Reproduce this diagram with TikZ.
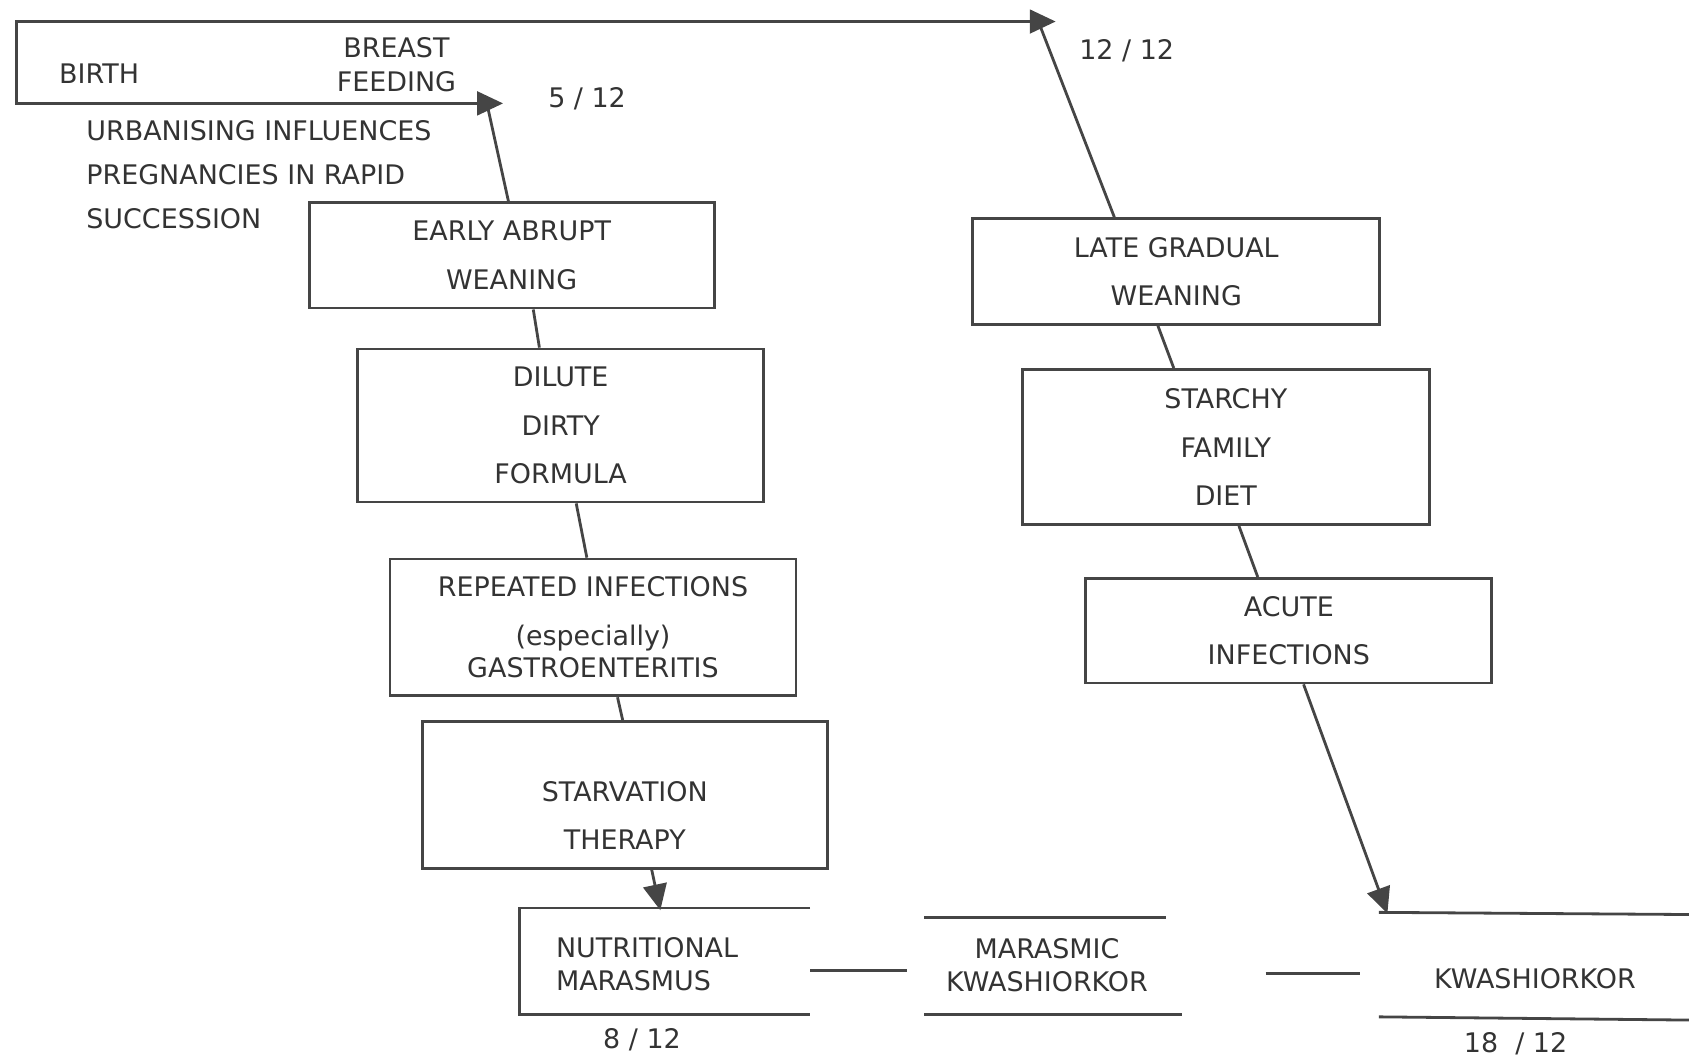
\documentclass[tikz,border=0pt]{standalone}
\usepackage{fontspec}
\setmainfont{DejaVu Sans}
\usetikzlibrary{arrows.meta,calc}
\definecolor{ink}{HTML}{333333}
\definecolor{lin}{HTML}{454545}
\begin{document}
\begin{tikzpicture}[x=1pt,y=-1pt,
  every node/.style={text=ink},
  box/.style={draw=lin, line width=2.6pt, inner sep=0pt, align=center, font=\fontsize{25}{45}\selectfont},
  txt/.style={inner sep=0pt, font=\fontsize{25}{30}\selectfont},
  conn/.style={draw=lin, line width=2.6pt},
  tipa/.style={-{Triangle[length=24pt,width=22pt]}},
  tipb/.style={{Triangle[length=24pt,width=22pt]}-{Triangle[length=24pt,width=22pt]}}
]
\useasboundingbox (0,0) rectangle (1568,981);

% boxes
\node[box, minimum width=376, minimum height=98] (early) at (475,237) {EARLY ABRUPT\\WEANING};
\node[box, minimum width=377, minimum height=142] (dilute) at (520.5,395) {DILUTE\\DIRTY\\FORMULA};
\node[box, minimum width=377, minimum height=127] (rep) at (550.5,582.5) {REPEATED INFECTIONS\\(especially)\\[-15pt]GASTROENTERITIS};
\node[box, minimum width=376, minimum height=136] (starv) at (580,738) {};
\node[txt, align=center, font=\fontsize{25}{45}\selectfont] (starvtxt) at (580,757) {STARVATION\\THERAPY};
\node[box, minimum width=378, minimum height=98] (late) at (1092,252) {LATE GRADUAL\\WEANING};
\node[box, minimum width=378, minimum height=144] (starchy) at (1138,415) {STARCHY\\FAMILY\\DIET};
\node[box, minimum width=377, minimum height=97] (acute) at (1196.5,585.5) {ACUTE\\INFECTIONS};

% top route
\coordinate (tipL) at (467,96);
\coordinate (tipR) at (980,20);
\coordinate (cBL) at (15,96);
\coordinate (cTL) at (15,20);
\coordinate (joinL) at (452,96);
\coordinate (joinR) at (964,20);
\draw[conn, tipb, line join=miter] (tipL) -- (cBL) -- (cTL) -- (tipR);
\draw[conn] ($(early.north west)!0.492!(early.north east)$) -- (joinL);
\draw[conn] ($(late.north west)!0.349!(late.north east)$) -- (joinR);

\node[txt] (birth) at (92,68) {BIRTH};
\node[txt, align=center, font=\fontsize{25}{31}\selectfont] (breast) at (368,60) {BREAST\\FEEDING};
\node[txt] (m5) at (545,92) {5 / 12};
\node[txt] (m12) at (1046,47) {12 / 12};
\node[txt, anchor=west] (urb) at (80,121) {URBANISING INFLUENCES};
\node[txt, anchor=west] (preg) at (80,162) {PREGNANCIES IN RAPID};
\node[txt, anchor=west] (succ) at (80,203) {SUCCESSION};

% left chain
\draw[conn] ($(early.south west)!0.553!(early.south east)$) -- ($(dilute.north west)!0.448!(dilute.north east)$);
\draw[conn] ($(dilute.south west)!0.538!(dilute.south east)$) -- ($(rep.north west)!0.485!(rep.north east)$);
\draw[conn] ($(rep.south west)!0.56!(rep.south east)$) -- ($(starv.north west)!0.495!(starv.north east)$);
\coordinate (nutrtop) at (613,845);
\draw[conn, tipa] ($(starv.south west)!0.566!(starv.south east)$) -- (nutrtop);

% right chain
\draw[conn] ($(late.south west)!0.455!(late.south east)$) -- ($(starchy.north west)!0.373!(starchy.north east)$);
\draw[conn] ($(starchy.south west)!0.532!(starchy.south east)$) -- ($(acute.north west)!0.424!(acute.north east)$);
\coordinate (kwtop) at (1288,848);
\draw[conn, tipa] ($(acute.south west)!0.536!(acute.south east)$) -- (kwtop);

% bottom brackets
\draw[conn, line join=miter] (752,843) -- (482,843) -- (482,942) -- (752,942);
\node[txt, anchor=west, align=left] (nutr) at (516,895) {NUTRITIONAL\\MARASMUS};
\node[txt] (m8) at (596,965) {8 / 12};
\draw[conn] (752,901) -- (842,901);
\draw[conn] (858,852) -- (1082,852);
\draw[conn] (858,942) -- (1097,942);
\node[txt, align=center] (mk) at (972,896) {MARASMIC\\KWASHIORKOR};
\draw[conn] (1175,904) -- (1263,904);
\draw[conn] (1280,847) -- (1568,849);
\draw[conn] (1280,944) -- (1568,947);
\node[txt] (kw) at (1425,909) {KWASHIORKOR};
\node[txt] (m18) at (1407,969) {18 \ / 12};
\end{tikzpicture}
\end{document}
